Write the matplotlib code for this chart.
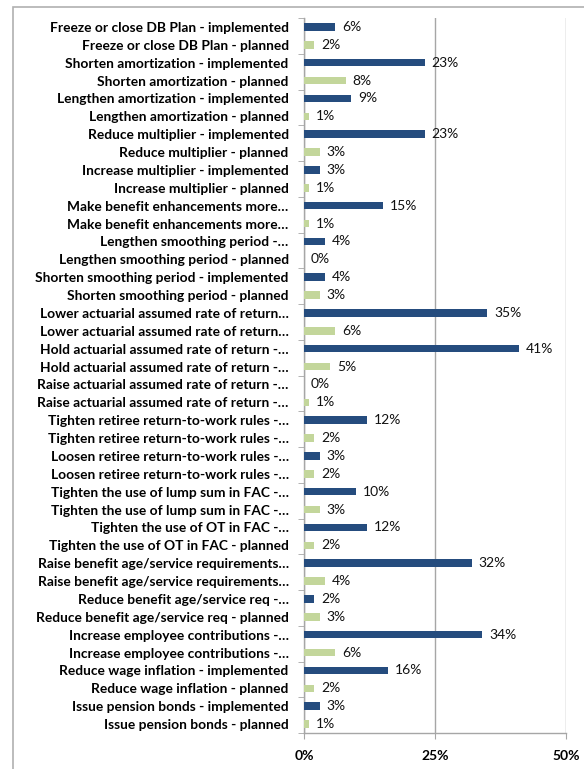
import matplotlib
matplotlib.use("Agg")
import matplotlib.pyplot as plt
from matplotlib.patches import Rectangle

categories = [
    "Freeze or close DB Plan - implemented",
    "Freeze or close DB Plan - planned",
    "Shorten amortization - implemented",
    "Shorten amortization - planned",
    "Lengthen amortization - implemented",
    "Lengthen amortization - planned",
    "Reduce multiplier - implemented",
    "Reduce multiplier - planned",
    "Increase multiplier - implemented",
    "Increase multiplier - planned",
    "Make benefit enhancements more…",
    "Make benefit enhancements more…",
    "Lengthen smoothing period -…",
    "Lengthen smoothing period - planned",
    "Shorten smoothing period - implemented",
    "Shorten smoothing period - planned",
    "Lower actuarial assumed rate of return…",
    "Lower actuarial assumed rate of return…",
    "Hold actuarial assumed rate of return -…",
    "Hold actuarial assumed rate of return -…",
    "Raise actuarial assumed rate of return -…",
    "Raise actuarial assumed rate of return -…",
    "Tighten retiree return-to-work rules -…",
    "Tighten retiree return-to-work rules -…",
    "Loosen retiree return-to-work rules -…",
    "Loosen retiree return-to-work rules -…",
    "Tighten the use of lump sum in FAC -…",
    "Tighten the use of lump sum in FAC -…",
    "Tighten the use of OT in FAC -…",
    "Tighten the use of OT in FAC - planned",
    "Raise benefit age/service requirements…",
    "Raise benefit age/service requirements…",
    "Reduce benefit age/service req -…",
    "Reduce benefit age/service req - planned",
    "Increase employee contributions -…",
    "Increase employee contributions -…",
    "Reduce wage inflation - implemented",
    "Reduce wage inflation - planned",
    "Issue pension bonds - implemented",
    "Issue pension bonds - planned",
]

# percent of plans, alternating implemented / planned
values = [6, 2, 23, 8, 9, 1, 23, 3, 3, 1, 15, 1, 4, 0, 4, 3, 35, 6, 41, 5,
          0, 1, 12, 2, 3, 2, 10, 3, 12, 2, 32, 4, 2, 3, 34, 6, 16, 2, 3, 1]

x_ticks = [0, 25, 50]
x_tick_labels = ["0%", "25%", "50%"]

implemented_color = "#254C7E"
planned_color = "#C3D69B"
grid_color = "#A6A6A6"

fig = plt.figure(figsize=(5.84, 7.69), dpi=100)
fig.patches.append(Rectangle((13 / 584, -0.1), 1.2, 1 - 7 / 769 + 0.1,
                             transform=fig.transFigure, fill=False,
                             edgecolor="#B0B0B0", linewidth=1.2))

ax = fig.add_axes([304 / 584, 1 - 733 / 769, 262 / 584, 715 / 769])

n = len(categories)
ypos = list(range(n))
colors = [implemented_color if i % 2 == 0 else planned_color for i in range(n)]
ax.barh(ypos, values, height=0.42, color=colors, edgecolor="none", zorder=3)

for y, v in zip(ypos, values):
    ax.annotate(f"{v}%", xy=(v, y), xytext=(5, 0), textcoords="offset points",
                va="center", ha="left", fontsize=10, family="Lato", color="#111111")

ax.set_xlim(0, 50)
ax.set_ylim(n - 0.5, -0.5)

ax.set_xticks(x_ticks)
ax.set_xticklabels(x_tick_labels, fontsize=10, fontweight="bold", family="Lato")
ax.tick_params(axis="x", length=4, color=grid_color, pad=8)

ax.set_yticks(ypos)
ax.set_yticklabels(categories, fontsize=9.9, fontweight="bold", family="Lato")
ax.tick_params(axis="y", length=0, pad=11)
ax.set_yticks([i - 0.5 for i in range(0, n + 1, 2)], minor=True)
ax.tick_params(axis="y", which="minor", length=4, color=grid_color)

ax.xaxis.grid(True, color=grid_color, linewidth=1.0, zorder=0)
ax.set_axisbelow(True)
for side in ["top", "right"]:
    ax.spines[side].set_visible(False)
for side in ["left", "bottom"]:
    ax.spines[side].set_color(grid_color)
    ax.spines[side].set_linewidth(1.0)

fig.savefig("out.png", dpi=100)
